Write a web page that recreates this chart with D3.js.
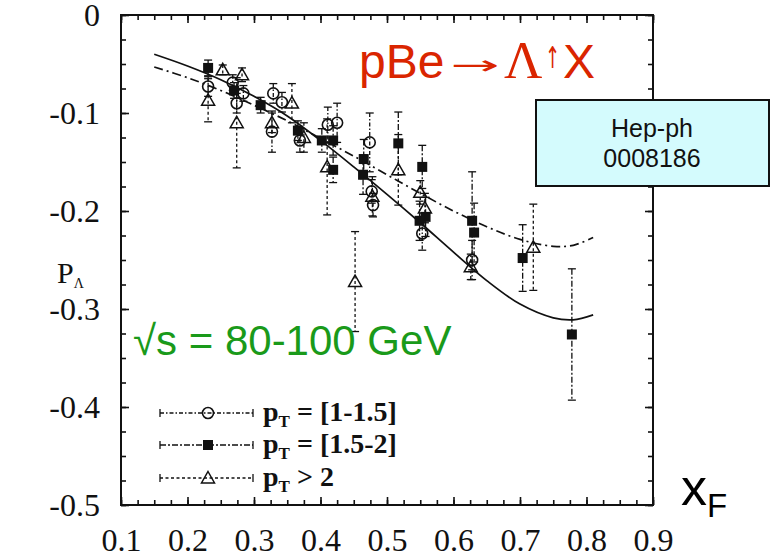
<!DOCTYPE html>
<html>
<head>
<meta charset="utf-8">
<script src="https://cdn.jsdelivr.net/npm/d3@7"></script>
<style>
  html, body { margin: 0; padding: 0; background: #fff; }
  svg { display: block; }
</style>
</head>
<body>
<svg id="chart" width="771" height="558"></svg>
<script>
// Axis ticks and labels
const xTickValues = [0.1, 0.2, 0.3, 0.4, 0.5, 0.6, 0.7, 0.8, 0.9];
const xTickLabels = ["0.1", "0.2", "0.3", "0.4", "0.5", "0.6", "0.7", "0.8", "0.9"];
const yTickValues = [0, -0.1, -0.2, -0.3, -0.4, -0.5];
const yTickLabels = ["0", "-0.1", "-0.2", "-0.3", "-0.4", "-0.5"];

// pT = [1-1.5] (open circles)
const circX   = [0.231, 0.268, 0.284, 0.274, 0.329, 0.327, 0.342, 0.369, 0.411, 0.425, 0.474, 0.477, 0.479, 0.553, 0.628];
const circY   = [-0.073, -0.069, -0.080, -0.090, -0.080, -0.119, -0.089, -0.128, -0.112, -0.110, -0.130, -0.180, -0.194, -0.223, -0.250];
const circErr = [0.010, 0.008, 0.008, 0.010, 0.010, 0.021, 0.010, 0.012, 0.018, 0.020, 0.030, 0.012, 0.012, 0.017, 0.020];

// pT = [1.5-2] (filled squares)
const sqX   = [0.231, 0.270, 0.310, 0.366, 0.402, 0.419, 0.419, 0.465, 0.464, 0.517, 0.553, 0.549, 0.558, 0.628, 0.631, 0.704, 0.778];
const sqY   = [-0.054, -0.077, -0.092, -0.118, -0.128, -0.128, -0.158, -0.147, -0.163, -0.131, -0.155, -0.210, -0.206, -0.210, -0.222, -0.248, -0.326];
const sqErr = [0.008, 0.008, 0.008, 0.010, 0.012, 0.015, 0.013, 0.020, 0.020, 0.032, 0.022, 0.020, 0.020, 0.050, 0.030, 0.034, 0.067];

// pT > 2 (open triangles)
const triX   = [0.231, 0.253, 0.282, 0.274, 0.327, 0.357, 0.375, 0.410, 0.452, 0.478, 0.517, 0.550, 0.557, 0.626, 0.720];
const triY   = [-0.087, -0.056, -0.061, -0.110, -0.110, -0.090, -0.125, -0.155, -0.272, -0.185, -0.158, -0.181, -0.197, -0.257, -0.237];
const triErr = [0.022, 0.005, 0.007, 0.046, 0.010, 0.020, 0.015, 0.049, 0.051, 0.020, 0.036, 0.012, 0.015, 0.013, 0.044];

// Model curves
const curveX = [0.15, 0.20, 0.25, 0.30, 0.35, 0.40, 0.45, 0.50, 0.55, 0.60, 0.65, 0.70, 0.75, 0.78, 0.81];
const solidY = [-0.040, -0.052, -0.066, -0.083, -0.103, -0.128, -0.155, -0.183, -0.212, -0.242, -0.271, -0.295, -0.309, -0.311, -0.306];
const dashY  = [-0.053, -0.064, -0.077, -0.092, -0.108, -0.126, -0.144, -0.163, -0.182, -0.200, -0.216, -0.229, -0.236, -0.235, -0.227];

// Legend entries
const legendLabels = ["[1-1.5]", "[1.5-2]", "> 2"];

const svg = d3.select("#chart");
const x = d3.scaleLinear().domain([0.1, 0.9]).range([121, 653]);
const y = d3.scaleLinear().domain([0, -0.5]).range([15, 505]);

const serif = "'Liberation Serif', 'Times New Roman', serif";
const sans = "'Liberation Sans', Arial, sans-serif";

// Minor ticks every 0.025
const xMinor = d3.range(0.1, 0.9001, 0.025).map(v => +v.toFixed(3));
const yMinor = d3.range(0, -0.5001, -0.025).map(v => +v.toFixed(3));

function styleAxis(g) {
  g.select(".domain").remove();
  g.selectAll(".tick line").attr("stroke", "#111").attr("stroke-width", 1.6);
}

// Bottom axis with labels
svg.append("g").attr("transform", "translate(0,505)")
  .call(d3.axisBottom(x).tickValues(xTickValues)
    .tickFormat((d, i) => xTickLabels[i]).tickSize(-8).tickPadding(23))
  .call(styleAxis)
  .call(g => g.selectAll("text").attr("font-family", serif).attr("font-size", 32).attr("fill", "#111"));
svg.append("g").attr("transform", "translate(0,505)")
  .call(d3.axisBottom(x).tickValues(xMinor).tickFormat("").tickSize(-5)).call(styleAxis);

// Top axis ticks
svg.append("g").attr("transform", "translate(0,15)")
  .call(d3.axisTop(x).tickValues(xTickValues).tickFormat("").tickSize(-8)).call(styleAxis);
svg.append("g").attr("transform", "translate(0,15)")
  .call(d3.axisTop(x).tickValues(xMinor).tickFormat("").tickSize(-5)).call(styleAxis);

// Left axis with labels
svg.append("g").attr("transform", "translate(121,0)")
  .call(d3.axisLeft(y).tickValues(yTickValues)
    .tickFormat((d, i) => yTickLabels[i]).tickSize(-8).tickPadding(21))
  .call(styleAxis)
  .call(g => g.selectAll("text").attr("font-family", serif).attr("font-size", 32).attr("fill", "#111"));
svg.append("g").attr("transform", "translate(121,0)")
  .call(d3.axisLeft(y).tickValues(yMinor).tickFormat("").tickSize(-5)).call(styleAxis);

// Right axis ticks
svg.append("g").attr("transform", "translate(653,0)")
  .call(d3.axisRight(y).tickValues(yTickValues).tickFormat("").tickSize(-8)).call(styleAxis);
svg.append("g").attr("transform", "translate(653,0)")
  .call(d3.axisRight(y).tickValues(yMinor).tickFormat("").tickSize(-5)).call(styleAxis);

// Frame
svg.append("rect").attr("x", x(0.1)).attr("y", y(0))
  .attr("width", x(0.9) - x(0.1)).attr("height", y(-0.5) - y(0))
  .attr("fill", "none").attr("stroke", "#111").attr("stroke-width", 2);

// Model curves
const line = d3.line().x(d => x(d[0])).y(d => y(d[1])).curve(d3.curveCatmullRom);
svg.append("path").datum(curveX.map((v, i) => [v, solidY[i]]))
  .attr("d", line).attr("fill", "none").attr("stroke", "#111").attr("stroke-width", 1.7);
svg.append("path").datum(curveX.map((v, i) => [v, dashY[i]]))
  .attr("d", line).attr("fill", "none").attr("stroke", "#111").attr("stroke-width", 1.7)
  .attr("stroke-dasharray", "9,4,2,4");

// Series definitions: marker shape and error-bar dash pattern
const series = [
  { xs: circX, ys: circY, es: circErr, shape: "circle", dash: "4,2,1.5,2" },
  { xs: sqX, ys: sqY, es: sqErr, shape: "square", dash: "6,2,2,2" },
  { xs: triX, ys: triY, es: triErr, shape: "triangle", dash: "3,2.5" }
];

function drawMarker(g, shape, cx, cy) {
  if (shape === "circle") {
    g.append("circle").attr("cx", cx).attr("cy", cy).attr("r", 5.5)
      .attr("fill", "none").attr("stroke", "#111").attr("stroke-width", 1.6);
  } else if (shape === "square") {
    g.append("rect").attr("x", cx - 5).attr("y", cy - 5).attr("width", 10).attr("height", 10)
      .attr("fill", "#111");
  } else {
    const s = 6.5;
    g.append("path")
      .attr("d", `M${cx},${cy - s}L${cx + s},${cy + s * 0.75}L${cx - s},${cy + s * 0.75}Z`)
      .attr("fill", "none").attr("stroke", "#111").attr("stroke-width", 1.5);
  }
}

const marks = svg.append("g");
series.forEach(s => {
  const g = marks.append("g");
  s.xs.forEach((xv, i) => {
    const cx = x(xv), top = y(s.ys[i] + s.es[i]), bot = y(s.ys[i] - s.es[i]);
    g.append("line").attr("x1", cx).attr("x2", cx).attr("y1", top).attr("y2", bot)
      .attr("stroke", "#111").attr("stroke-width", 1.3).attr("stroke-dasharray", s.dash);
    [top, bot].forEach(yy => g.append("line").attr("x1", cx - 4).attr("x2", cx + 4)
      .attr("y1", yy).attr("y2", yy).attr("stroke", "#111").attr("stroke-width", 1.3));
    drawMarker(g, s.shape, cx, y(s.ys[i]));
  });
});

// Legend
const legendY = [413, 445, 478];
const legendBase = [421, 453, 486];
series.forEach((s, i) => {
  const g = svg.append("g");
  const x0 = 160, x1 = 253, ly = legendY[i];
  g.append("line").attr("x1", x0).attr("x2", x1).attr("y1", ly).attr("y2", ly)
    .attr("stroke", "#111").attr("stroke-width", 1.3).attr("stroke-dasharray", s.dash);
  [x0, x1].forEach(xx => g.append("line").attr("x1", xx).attr("x2", xx)
    .attr("y1", ly - 4).attr("y2", ly + 4).attr("stroke", "#111").attr("stroke-width", 1.3));
  drawMarker(g, s.shape, 208, ly);
  const t = g.append("text").attr("x", 263).attr("y", legendBase[i])
    .attr("font-family", serif).attr("font-size", 28).attr("font-weight", "bold").attr("fill", "#111");
  t.append("tspan").text("p");
  t.append("tspan").attr("font-size", 17).attr("dy", 6).text("T");
  t.append("tspan").attr("dy", -6).text(i < 2 ? " = " + legendLabels[i] : " " + legendLabels[i]);
});

// Axis titles
const pl = svg.append("text").attr("x", 57).attr("y", 283)
  .attr("font-family", serif).attr("font-size", 30).attr("fill", "#111");
pl.append("tspan").text("P");
pl.append("tspan").attr("font-size", 14).attr("dy", 5).text("Λ");

const xl = svg.append("text").attr("x", 681).attr("y", 505)
  .attr("font-family", sans).attr("font-size", 52).attr("fill", "#000");
xl.append("tspan").text("x");
xl.append("tspan").attr("font-size", 33).attr("dy", 12).text("F");

// Reaction title
const red = "#da2500";
const title = svg.append("g").attr("fill", red);
title.append("text").attr("x", 359).attr("y", 78).attr("font-family", sans).attr("font-size", 48).text("pBe");
// long thin arrow: a small arrow glyph stretched horizontally
title.append("text").attr("transform", "translate(451,74) scale(2.25,1)")
  .attr("font-family", "'DejaVu Sans', sans-serif").attr("font-size", 26).text("→");
title.append("text").attr("x", 504).attr("y", 78).attr("font-family", serif).attr("font-size", 53).text("Λ");
title.append("text").attr("transform", "translate(545,68) scale(0.6,1)")
  .attr("font-family", "'DejaVu Sans', sans-serif").attr("font-size", 30).text("↑");
title.append("text").attr("x", 563).attr("y", 78).attr("font-family", sans).attr("font-size", 48).text("X");

// Energy range
svg.append("text").attr("x", 133).attr("y", 355).attr("font-family", sans).attr("font-size", 42)
  .attr("fill", "#1a9a1a").text("√s = 80-100 GeV");

// Reference box
const box = svg.append("g");
box.append("rect").attr("x", 536).attr("y", 100).attr("width", 233).attr("height", 86)
  .attr("fill", "#d4fbfd").attr("stroke", "#111").attr("stroke-width", 2);
box.append("text").attr("x", 652).attr("y", 137).attr("text-anchor", "middle")
  .attr("font-family", sans).attr("font-size", 25).attr("fill", "#111").text("Hep-ph");
box.append("text").attr("x", 652).attr("y", 167).attr("text-anchor", "middle")
  .attr("font-family", sans).attr("font-size", 25).attr("fill", "#111").text("0008186");
</script>
</body>
</html>
